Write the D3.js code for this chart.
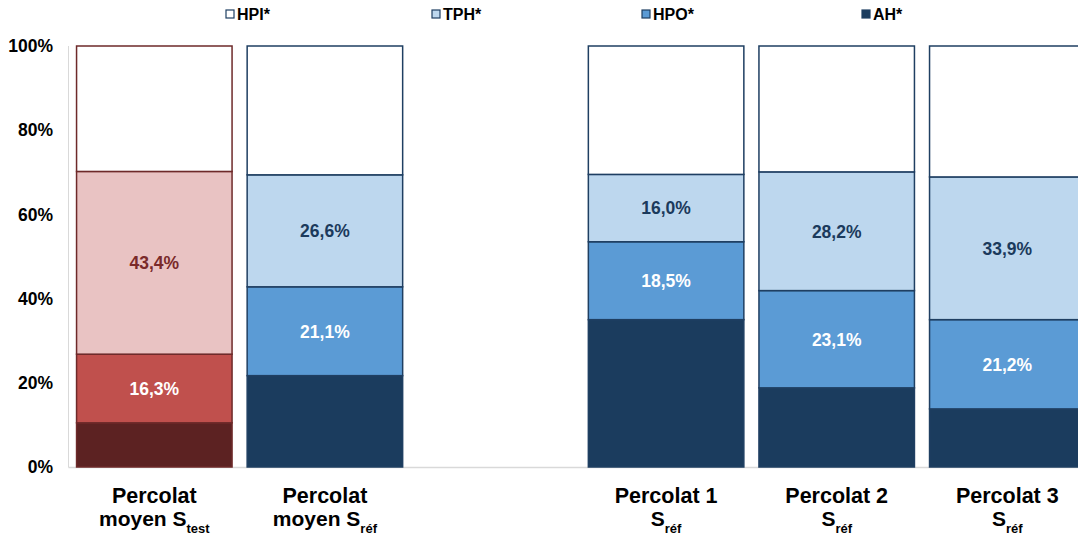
<!DOCTYPE html>
<html>
<head>
<meta charset="utf-8">
<script src="https://cdn.jsdelivr.net/npm/d3@7"></script>
<style>
  html, body { margin: 0; padding: 0; background: #fff; }
  svg { display: block; font-family: "Liberation Sans", Arial, sans-serif; }
</style>
</head>
<body>
<svg id="chart" width="1078" height="537"></svg>
<script>
// Fractions (%) per percolate; the third slot is left empty on purpose
const categories = ["Percolat moyen Stest", "Percolat moyen Sréf", "gap", "Percolat 1 Sréf", "Percolat 2 Sréf", "Percolat 3 Sréf"];
const labelLine1 = ["Percolat", "Percolat", "", "Percolat 1", "Percolat 2", "Percolat 3"];
const labelLine2Main = ["moyen S", "moyen S", "", "S", "S", "S"];
const labelLine2Sub = ["test", "réf", "", "réf", "réf", "réf"];
const seriesNames = ["AH*", "HPO*", "TPH*", "HPI*"];
const AH  = [10.5, 21.7, null, 35.0, 18.8, 13.8];
const HPO = [16.3, 21.1, null, 18.5, 23.1, 21.2];
const TPH = [43.4, 26.6, null, 16.0, 28.2, 33.9];
const HPI = [29.8, 30.6, null, 30.5, 29.9, 31.1];
const yTicks = [0, 20, 40, 60, 80, 100];
const legendOrder = ["HPI*", "TPH*", "HPO*", "AH*"];

const palettes = {
  blue: { fill: { "AH*": "#1b3c5e", "HPO*": "#5b9bd5", "TPH*": "#bdd7ee", "HPI*": "#ffffff" },
          stroke: "#1f3f62", label: { "HPO*": "#ffffff", "TPH*": "#1b3a5c" } },
  red:  { fill: { "AH*": "#5c2222", "HPO*": "#c0504d", "TPH*": "#e9c3c3", "HPI*": "#ffffff" },
          stroke: "#6e2a2a", label: { "HPO*": "#ffffff", "TPH*": "#7a2a2a" } }
};
const paletteOf = i => (i === 0 ? palettes.red : palettes.blue);
const labelled = ["HPO*", "TPH*"];

const svg = d3.select("#chart");
const margin = { left: 69, top: 46 };
const bandW = 170.6;

const x = d3.scaleBand()
  .domain(categories)
  .range([margin.left, margin.left + bandW * categories.length])
  .paddingInner(0.0885)
  .paddingOuter(0.0443);
const y = d3.scaleLinear().domain([0, 100]).range([467, margin.top]);

// Axis lines (light grey)
svg.append("line").attr("x1", 68.5).attr("x2", 68.5).attr("y1", margin.top).attr("y2", 467.5)
  .attr("stroke", "#d9d9d9").attr("stroke-width", 1);
svg.append("line").attr("x1", 68.5).attr("x2", 1078).attr("y1", 467.5).attr("y2", 467.5)
  .attr("stroke", "#d9d9d9").attr("stroke-width", 1.5);

// Y axis labels
const yAxis = d3.axisLeft(y).tickValues(yTicks).tickFormat(d => d + "%").tickSize(0).tickPadding(15);
const gy = svg.append("g").attr("transform", `translate(68,0)`).call(yAxis);
gy.select(".domain").remove();
gy.selectAll("text").attr("font-size", 17.5).attr("font-weight", "bold").attr("fill", "#000")
  .attr("font-family", "Liberation Sans, Arial, sans-serif");

// Stacked data
const rows = categories.map((c, i) => ({ cat: c, i, "AH*": AH[i], "HPO*": HPO[i], "TPH*": TPH[i], "HPI*": HPI[i] }))
  .filter(r => r["AH*"] !== null);
const stack = d3.stack().keys(seriesNames)(rows);

const layers = svg.append("g").selectAll("g").data(stack).join("g");
layers.selectAll("rect")
  .data(s => s.map(d => ({ key: s.key, d })))
  .join("rect")
  .attr("x", o => x(o.d.data.cat))
  .attr("width", x.bandwidth())
  .attr("y", o => y(o.d[1]))
  .attr("height", o => y(o.d[0]) - y(o.d[1]))
  .attr("fill", o => paletteOf(o.d.data.i).fill[o.key])
  .attr("stroke", o => paletteOf(o.d.data.i).stroke)
  .attr("stroke-width", 1.5);

// Value labels for HPO and TPH
layers.filter(s => labelled.includes(s.key)).selectAll("text")
  .data(s => s.map(d => ({ key: s.key, d })))
  .join("text")
  .attr("x", o => x(o.d.data.cat) + x.bandwidth() / 2)
  .attr("y", o => (y(o.d[0]) + y(o.d[1])) / 2)
  .attr("dy", "0.36em")
  .attr("text-anchor", "middle")
  .attr("font-size", 17.5).attr("font-weight", "bold")
  .attr("fill", o => paletteOf(o.d.data.i).label[o.key])
  .text(o => d3.format(".1f")(o.d.data[o.key]).replace(".", ",") + "%");

// Category labels
const cats = svg.append("g").selectAll("text")
  .data(categories.map((c, i) => ({ c, i })).filter(o => labelLine1[o.i] !== ""))
  .join("text")
  .attr("text-anchor", "middle")
  .attr("font-size", 21.5).attr("font-weight", "bold").attr("fill", "#000")
  .attr("transform", o => `translate(${x(o.c) + x.bandwidth() / 2},0)`);
cats.append("tspan").attr("x", 0).attr("y", 503).text(o => labelLine1[o.i]);
const l2 = cats.append("tspan").attr("x", 0).attr("y", 525.5).attr("font-size", 21);
l2.append("tspan").text(o => labelLine2Main[o.i]);
l2.append("tspan").attr("font-size", 13).attr("dy", 7.5).text(o => labelLine2Sub[o.i]);

// Legend
const legendX = { "HPI*": 226, "TPH*": 432, "HPO*": 642, "AH*": 862 };
const lg = svg.append("g").selectAll("g").data(legendOrder).join("g")
  .attr("transform", d => `translate(${legendX[d]},0)`);
lg.append("rect").attr("x", 0).attr("y", 10).attr("width", 8).attr("height", 8)
  .attr("fill", d => palettes.blue.fill[d]).attr("stroke", "#1f3f62").attr("stroke-width", 1.2);
lg.append("text").attr("x", 11).attr("y", 20).attr("font-size", 16).attr("font-weight", "bold")
  .attr("fill", "#000").text(d => d);
</script>
</body>
</html>
